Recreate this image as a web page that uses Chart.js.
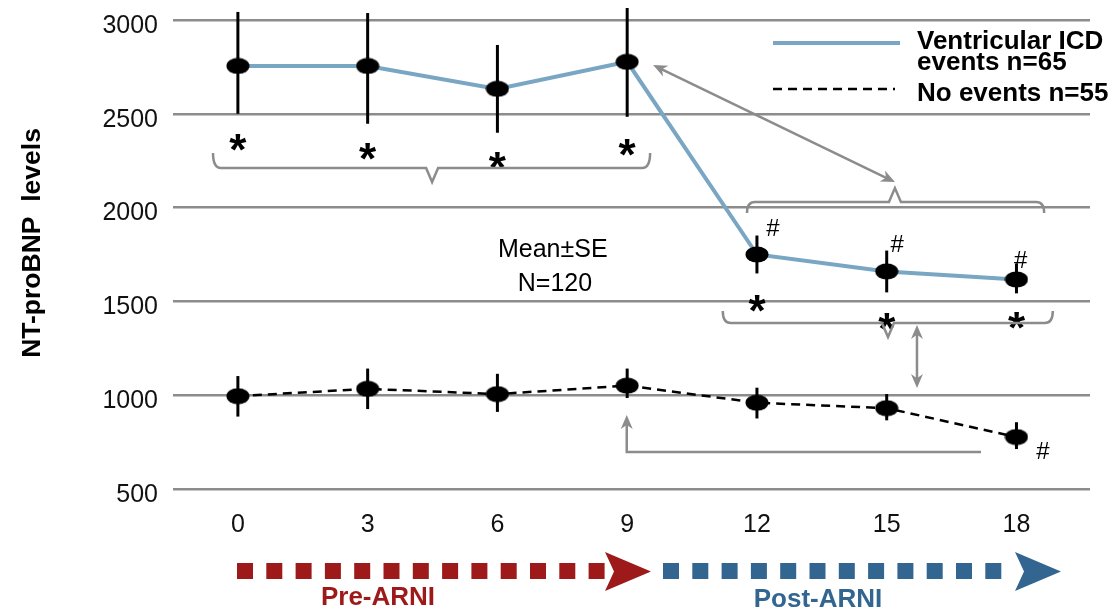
<!DOCTYPE html>
<html>
<head>
<meta charset="utf-8">
<script src="https://cdn.jsdelivr.net/npm/chart.js@4.4.1/dist/chart.umd.min.js"></script>
<style>
  html, body { margin: 0; padding: 0; background: #fff; }
  #wrap { width: 1114px; height: 611px; }
</style>
</head>
<body>
<div id="wrap"><canvas id="chart" width="1114" height="611"></canvas></div>
<script>
// months after start
const months = [0, 3, 6, 9, 12, 15, 18];
const xTickLabels = ["0", "3", "6", "9", "12", "15", "18"];
const yTicks = [500, 1000, 1500, 2000, 2500, 3000];

// Ventricular ICD events n=65 (mean, -SE, +SE)
const icdMean = [2755, 2755, 2633, 2777, 1750, 1660, 1617];
const icdLow  = [2500, 2447, 2399, 2484, 1649, 1548, 1543];
const icdHigh = [3043, 3037, 2867, 3064, 1851, 1771, 1702];

// No events n=55
const noMean = [995, 1034, 1006, 1051, 960, 931, 777];
const noLow  = [886, 926, 911, 985, 876, 866, 713];
const noHigh = [1102, 1142, 1114, 1142, 1040, 1006, 856];

// significance marks, in data units [month, level]
const starMarks = [[0, 2360], [3, 2312], [6, 2264], [9, 2334], [12, 1502], [15, 1406], [18, 1411]];
const hashMarks = [[12.37, 1886], [15.24, 1801], [18.1, 1715], [18.61, 697]];

const FONT = "'Liberation Sans', Arial, sans-serif";
const GREY = "#8c8c8c";

// ellipse marker used as point style
const dot = document.createElement("canvas");
dot.width = 24;
dot.height = 17;
(function () {
    let c = dot.getContext("2d");
    c.fillStyle = "#000";
    c.beginPath();
    c.ellipse(12, 8.5, 11.5, 8, 0, 0, Math.PI * 2);
    c.fill();
})();

const toPoints = (ys) => months.map((m, i) => ({ x: m, y: ys[i] }));

function arrowHead(ctx, x, y, ang, len, half) {
    ctx.save();
    ctx.translate(x, y);
    ctx.rotate(ang);
    ctx.beginPath();
    ctx.moveTo(0, 0);
    ctx.lineTo(-len, -half);
    ctx.lineTo(-len * 0.7, 0);
    ctx.lineTo(-len, half);
    ctx.closePath();
    ctx.fill();
    ctx.restore();
}

function brace(ctx, x1, x2, yLine, yEnd, tipX, tipY) {
    let r = 8, w = 6;
    ctx.beginPath();
    ctx.moveTo(x1, yEnd);
    ctx.quadraticCurveTo(x1, yLine, x1 + r, yLine);
    ctx.lineTo(tipX - w, yLine);
    ctx.lineTo(tipX, tipY);
    ctx.lineTo(tipX + w, yLine);
    ctx.lineTo(x2 - r, yLine);
    ctx.quadraticCurveTo(x2, yLine, x2, yEnd);
    ctx.stroke();
}

const errorBars = {
    id: "errorBars",
    beforeDatasetsDraw(chart) {
        const { ctx, scales: { x, y } } = chart;
        ctx.save();
        ctx.strokeStyle = "#000";
        ctx.lineWidth = 3;
        [[icdLow, icdHigh], [noLow, noHigh]].forEach(([lo, hi]) => {
            months.forEach((m, i) => {
                let px = x.getPixelForValue(m);
                ctx.beginPath();
                ctx.moveTo(px, y.getPixelForValue(lo[i]));
                ctx.lineTo(px, y.getPixelForValue(hi[i]));
                ctx.stroke();
            });
        });
        ctx.restore();
    }
};

const overlay = {
    id: "overlay",
    afterDraw(chart) {
        const { ctx, scales: { x, y } } = chart;
        const X = (v) => x.getPixelForValue(v), Y = (v) => y.getPixelForValue(v);
        ctx.save();

        // y title
        ctx.save();
        ctx.translate(33, 243);
        ctx.rotate(-Math.PI / 2);
        ctx.fillStyle = "#000";
        ctx.font = "bold 26.5px " + FONT;
        ctx.textAlign = "center";
        ctx.textBaseline = "middle";
        ctx.fillText("NT-proBNP  levels", 0, 0);
        ctx.restore();

        // asterisks and hashes
        ctx.fillStyle = "#000";
        ctx.textAlign = "center";
        ctx.textBaseline = "alphabetic";
        ctx.font = "bold 44px " + FONT;
        starMarks.forEach(([m, v]) => ctx.fillText("*", X(m), Y(v) + 0.575 * 44));
        ctx.font = "24px " + FONT;
        ctx.textBaseline = "middle";
        hashMarks.forEach(([m, v]) => ctx.fillText("#", X(m), Y(v)));

        ctx.font = "25px " + FONT;
        ctx.fillText("Mean\u00b1SE", X(7.28), Y(1774));
        ctx.fillText("N=120", X(7.33), Y(1593));

        // braces and arrows
        ctx.strokeStyle = GREY;
        ctx.fillStyle = GREY;
        ctx.lineWidth = 2.5;
        brace(ctx, X(-0.575), X(9.53), Y(2211), Y(2291), X(4.49), Y(2136));
        brace(ctx, X(11.77), X(18.64), Y(2030), Y(1971), X(15.19), Y(2104));
        brace(ctx, X(11.21), X(18.84), Y(1385), Y(1449), X(15.03), Y(1310));

        let ax1 = X(9.6), ay1 = Y(2760), ax2 = X(15.19), ay2 = Y(2136);
        let ang = Math.atan2(ay2 - ay1, ax2 - ax1);
        ctx.beginPath();
        ctx.moveTo(ax1 + 8 * Math.cos(ang), ay1 + 8 * Math.sin(ang));
        ctx.lineTo(ax2 - 8 * Math.cos(ang), ay2 - 8 * Math.sin(ang));
        ctx.stroke();
        arrowHead(ctx, ax2, ay2, ang, 14, 6);
        arrowHead(ctx, ax1, ay1, ang + Math.PI, 14, 6);

        let vx = X(15.7), vy1 = Y(1374), vy2 = Y(1038);
        ctx.beginPath();
        ctx.moveTo(vx, vy1 + 8);
        ctx.lineTo(vx, vy2 - 8);
        ctx.stroke();
        arrowHead(ctx, vx, vy1, -Math.PI / 2, 14, 6);
        arrowHead(ctx, vx, vy2, Math.PI / 2, 14, 6);

        let lx = X(8.99), ly = Y(697), rx = X(17.18), ty = Y(894);
        ctx.beginPath();
        ctx.moveTo(rx, ly);
        ctx.lineTo(lx, ly);
        ctx.lineTo(lx, ty + 8);
        ctx.stroke();
        arrowHead(ctx, lx, ty, -Math.PI / 2, 14, 6);

        // legend
        ctx.lineWidth = 4;
        ctx.strokeStyle = "#78a6c3";
        ctx.beginPath();
        ctx.moveTo(773, 43);
        ctx.lineTo(900, 43);
        ctx.stroke();
        ctx.lineWidth = 2.5;
        ctx.strokeStyle = "#000";
        ctx.setLineDash([9, 6]);
        ctx.beginPath();
        ctx.moveTo(773, 89);
        ctx.lineTo(895, 89);
        ctx.stroke();
        ctx.setLineDash([]);
        ctx.fillStyle = "#000";
        ctx.font = "bold 26px " + FONT;
        ctx.textAlign = "left";
        ctx.textBaseline = "alphabetic";
        ctx.fillText("Ventricular ICD", 917, 49);
        ctx.fillText("events n=65", 917, 70);
        ctx.fillText("No events n=55", 917, 101);

        // treatment phase arrows
        const phase = (x0, count, color, headX, label, labelX, labelY) => {
            ctx.fillStyle = color;
            for (let i = 0; i < count; i++)
                ctx.fillRect(x0 + i * 29.3, 563, 16, 16);
            ctx.beginPath();
            ctx.moveTo(headX, 552);
            ctx.lineTo(headX + 46, 571.5);
            ctx.lineTo(headX, 591);
            ctx.lineTo(headX + 9, 571.5);
            ctx.closePath();
            ctx.fill();
            ctx.font = "bold 26px " + FONT;
            ctx.textAlign = "center";
            ctx.textBaseline = "middle";
            ctx.fillText(label, labelX, labelY);
        };
        phase(237, 13, "#9e1a1a", 605, "Pre-ARNI", 378, 598);
        phase(663, 12, "#336591", 1015, "Post-ARNI", 818, 600);

        ctx.restore();
    }
};

new Chart(document.getElementById("chart"), {
    type: "line",
    data: {
        datasets: [
            {
                label: "Ventricular ICD events n=65",
                data: toPoints(icdMean),
                borderColor: "#78a6c3",
                borderWidth: 4,
                pointStyle: dot,
                tension: 0
            },
            {
                label: "No events n=55",
                data: toPoints(noMean),
                borderColor: "#000",
                borderWidth: 2.5,
                borderDash: [9, 6],
                pointStyle: dot,
                tension: 0
            }
        ]
    },
    options: {
        responsive: false,
        animation: false,
        clip: false,
        layout: { padding: { top: 20, right: 24, left: 0, bottom: 0 } },
        plugins: { legend: { display: false }, tooltip: { enabled: false } },
        scales: {
            x: {
                type: "linear",
                min: -1.5,
                max: 19.7,
                afterBuildTicks: (scale) => { scale.ticks = months.map(v => ({ value: v })); },
                afterFit: (scale) => {
                    scale.height = 122;
                    scale.paddingLeft = 0;
                    scale.paddingRight = 0;
                },
                ticks: {
                    callback: (v) => xTickLabels[months.indexOf(v)],
                    color: "#111",
                    font: { family: FONT, size: 25 },
                    padding: 13,
                    maxRotation: 0
                },
                grid: { display: false },
                border: { display: false }
            },
            y: {
                min: 500,
                max: 3000,
                afterBuildTicks: (scale) => { scale.ticks = yTicks.map(v => ({ value: v })); },
                afterFit: (scale) => {
                    scale.width = 173;
                    scale.paddingTop = 0;
                    scale.paddingBottom = 0;
                },
                ticks: {
                    callback: (v) => String(v),
                    color: "#111",
                    font: { family: FONT, size: 25 },
                    padding: 15,
                    labelOffset: 6
                },
                grid: { color: GREY, lineWidth: 2.5, drawTicks: false },
                border: { display: false }
            }
        }
    },
    plugins: [errorBars, overlay]
});
</script>
</body>
</html>
